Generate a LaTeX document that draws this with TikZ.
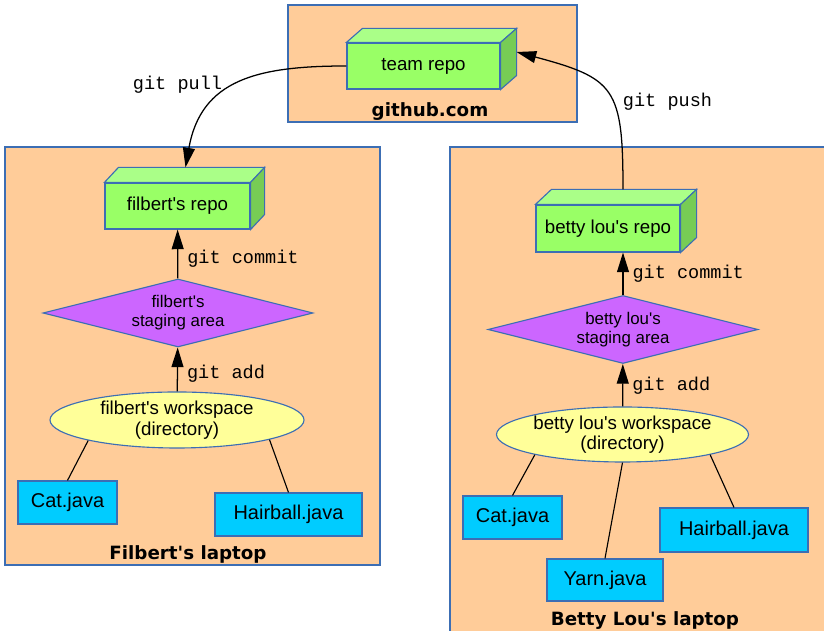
\documentclass[tikz,border=0pt]{standalone}
\usepackage{fontspec}
\setmainfont{Liberation Sans}
\setmonofont{Liberation Mono}
\newfontfamily\heavyfont{DejaVu Sans}
\usetikzlibrary{shapes.geometric, arrows.meta}

\definecolor{peach}{HTML}{FFCC99}
\definecolor{edgeblue}{HTML}{3C6EB4}
\definecolor{repofront}{HTML}{99FF66}
\definecolor{repotop}{HTML}{AAFF88}
\definecolor{reposide}{HTML}{77CC55}
\definecolor{stagepurple}{HTML}{CC66FF}
\definecolor{wsyellow}{HTML}{FFFF99}
\definecolor{filecyan}{HTML}{00CCFF}

\begin{document}
\begin{tikzpicture}[
        laptop/.style={rectangle, draw=edgeblue, fill=peach, line width=0.8pt},
        repo/.style={rectangle, draw=edgeblue, fill=repofront, line width=0.8pt, minimum height=1.15cm, inner sep=0pt, font=\fontsize{13.3}{15}\selectfont},
        stage/.style={diamond, draw=edgeblue, fill=stagepurple, line width=0.8pt, aspect=4, inner sep=0pt, minimum width=6.75cm, minimum height=1.7cm, align=center, font=\fontsize{12}{13.5}\selectfont},
        workspace/.style={ellipse, draw=edgeblue, fill=wsyellow, line width=0.8pt, inner sep=0pt, align=center, font=\fontsize{13.3}{14.5}\selectfont},
        file/.style={rectangle, draw=edgeblue, fill=filecyan, line width=0.8pt, minimum height=1.075cm, inner sep=0pt, font=\fontsize{14.2}{16}\selectfont},
        arrow/.style={-{Triangle[length=14pt, width=8.5pt]}, line width=0.9pt},
        link/.style={line width=0.8pt},
        label/.style={font=\ttfamily\fontsize{13.2}{15}\selectfont},
        title/.style={font=\heavyfont\bfseries\fontsize{13}{15}\selectfont}
    ]

    \useasboundingbox (0, 0) rectangle (20.6, 15.775);
    \clip (0, 0) rectangle (20.6, 15.775);

    % Containers
    \node[laptop, minimum width=7.225cm, minimum height=2.925cm] (github) at (10.8125, 14.1875) {};
    \node[laptop, minimum width=9.375cm, minimum height=10.45cm] (filbert) at (4.8125, 6.875) {};
    \node[laptop, minimum width=9.5cm, minimum height=12.325cm] (betty) at (16.0, 5.9375) {};

    \node[title] (githubtitle) at (10.75, 12.975) {github.com};
    \node[title] (ftitle) at (4.7, 1.925) {Filbert\textquotesingle s laptop};
    \node[title] (btitle) at (16.125, 0.25) {Betty Lou\textquotesingle s laptop};

    % Repositories
    \node[repo, minimum width=3.825cm] (team) at (10.5875, 14.125) {team repo};
    \node[repo, minimum width=3.625cm] (frepo) at (4.4375, 10.625) {filbert\textquotesingle s repo};
    \node[repo, minimum width=3.6cm, minimum height=1.175cm] (brepo) at (15.2, 10.0625) {betty lou\textquotesingle s repo};

    \foreach \r/\dx/\dy in {team/0.4/0.35, frepo/0.35/0.375, brepo/0.4/0.375} {
        \filldraw[draw=edgeblue, fill=repotop, line width=0.8pt] (\r.north west) -- ++(\dx, \dy) -- ([shift={(\dx, \dy)}]\r.north east) -- (\r.north east) -- cycle;
        \filldraw[draw=edgeblue, fill=reposide, line width=0.8pt] (\r.north east) -- ([shift={(\dx, \dy)}]\r.north east) -- ([shift={(\dx, \dy)}]\r.south east) -- (\r.south east) -- cycle;
    }

    % Filbert's laptop
    \node[stage] (fstage) at (4.45, 7.95) {filbert\textquotesingle s\\staging area};
    \node[workspace, minimum width=6.35cm, minimum height=1.4cm] (fws) at (4.425, 5.275) {filbert\textquotesingle s workspace\\(directory)};
    \node[file, minimum width=2.475cm] (fcat) at (1.6875, 3.2125) {Cat.java};
    \node[file, minimum width=3.675cm] (fhair) at (7.2125, 2.9125) {Hairball.java};

    \draw[arrow] (fstage) -- node[right, label, xshift=3pt, yshift=-3pt] {git commit} (frepo);
    \draw[arrow] (fws) -- node[right, label, xshift=3pt, yshift=-3pt] {git add} (fstage);
    \draw[link] (fws.193) -- (fcat.north);
    \draw[link] (fws.-12) -- (fhair.north);

    % Betty Lou's laptop
    \node[stage] (bstage) at (15.575, 7.5375) {betty lou\textquotesingle s\\staging area};
    \node[workspace, minimum width=6.275cm, minimum height=1.375cm] (bws) at (15.5625, 4.9125) {betty lou\textquotesingle s workspace\\(directory)};
    \node[file, minimum width=2.475cm] (bcat) at (12.8125, 2.8375) {Cat.java};
    \node[file, minimum width=2.9cm, minimum height=1.05cm] (byarn) at (15.125, 1.275) {Yarn.java};
    \node[file, minimum width=3.7cm, minimum height=1.1cm] (bhair) at (18.35, 2.525) {Hairball.java};

    \draw[arrow] (bstage.north) -- node[right, label, xshift=3pt] {git commit} (bstage.north |- brepo.south);
    \draw[arrow] (bws) -- node[right, label, xshift=3pt] {git add} (bstage);
    \draw[link] (bws.193) -- (bcat.north);
    \draw[link] (bws.south) -- (byarn.north);
    \draw[link] (bws.-13) -- (bhair.north);

    % Sync with github
    \draw[arrow] (team.west) to[out=180, in=80, looseness=1.2] ([xshift=0.2cm, yshift=0.375cm]frepo.north);
    \node[label, anchor=west] (pulllabel) at (3.2, 13.65) {git pull};
    \draw[arrow] ([xshift=0.375cm, yshift=0.375cm]brepo.north) to[out=90, in=-15, looseness=1.5] ([shift={(0.4, 0.35)}]team.east);
    \node[label, anchor=west] (pushlabel) at (15.45, 13.225) {git push};

\end{tikzpicture}
\end{document}
